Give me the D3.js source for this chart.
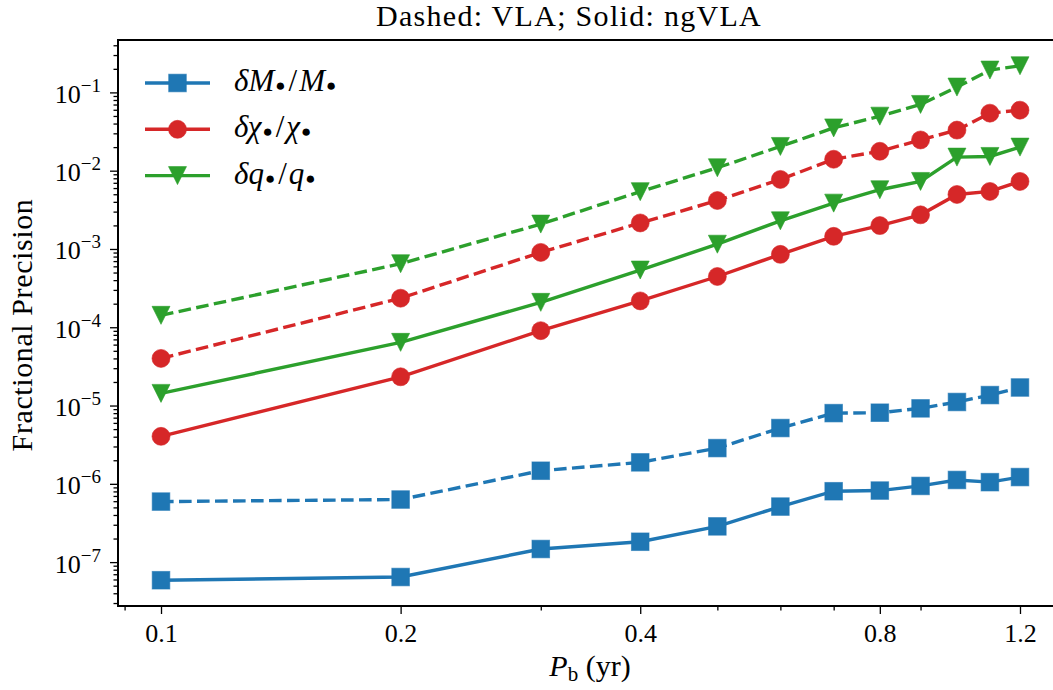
<!DOCTYPE html>
<html><head><meta charset="utf-8">
<script src="https://cdn.jsdelivr.net/npm/d3@7"></script>
<style>
body{margin:0;background:#fff}
svg{display:block}
text{font-family:"Liberation Serif","Times New Roman",serif;fill:#000}
</style>
</head><body>
<svg id="chart" width="1053" height="690"></svg>
<script>
// ---- data ----
const periods = [0.1, 0.2, 0.3, 0.4, 0.5, 0.6, 0.7, 0.8, 0.9, 1.0, 1.1, 1.2];
const ngvlaMass = [5.87e-8, 6.45e-8, 1.47e-7, 1.82e-7, 2.86e-7, 5.12e-7, 8.04e-7, 8.2e-7, 9.4e-7, 1.12e-6, 1.05e-6, 1.22e-6];
const vlaMass   = [5.93e-7, 6.3e-7, 1.47e-6, 1.88e-6, 2.86e-6, 5.16e-6, 8.0e-6, 8.1e-6, 9.2e-6, 1.11e-5, 1.36e-5, 1.70e-5];
const ngvlaSpin = [4.04e-6, 2.33e-5, 9.04e-5, 2.17e-4, 4.45e-4, 8.53e-4, 1.45e-3, 1.99e-3, 2.73e-3, 4.97e-3, 5.43e-3, 7.29e-3];
const vlaSpin   = [4.0e-5, 2.35e-4, 9.04e-4, 2.15e-3, 4.16e-3, 7.73e-3, 1.40e-2, 1.77e-2, 2.47e-2, 3.3e-2, 5.43e-2, 5.93e-2];
const ngvlaQuad = [1.43e-5, 6.41e-5, 2.08e-4, 5.38e-4, 1.15e-3, 2.29e-3, 3.85e-3, 5.71e-3, 7.29e-3, 1.49e-2, 1.52e-2, 2.0e-2];
const vlaQuad   = [1.42e-4, 6.48e-4, 2.08e-3, 5.4e-3, 1.09e-2, 2.04e-2, 3.52e-2, 4.97e-2, 7.02e-2, 0.117, 0.193, 0.219];
const xMajorTicks = [0.1, 0.2, 0.4, 0.8, 1.2];
const xMinorTicks = [0.09, 0.3, 0.5, 0.6, 0.7, 0.9];
const yExponents = [-7, -6, -5, -4, -3, -2, -1];
const titleText = "Dashed: VLA; Solid: ngVLA";
const xLabelMain = "P";
const xLabelSub = "b";
const xLabelUnit = " (yr)";
const yLabelText = "Fractional Precision";

const colors = {mass: "#1f77b4", spin: "#d62728", quad: "#2ca02c"};

const series = [
  {key: "mass", vals: vlaMass, dashed: true, marker: "square"},
  {key: "mass", vals: ngvlaMass, dashed: false, marker: "square"},
  {key: "spin", vals: vlaSpin, dashed: true, marker: "circle"},
  {key: "spin", vals: ngvlaSpin, dashed: false, marker: "circle"},
  {key: "quad", vals: vlaQuad, dashed: true, marker: "tri"},
  {key: "quad", vals: ngvlaQuad, dashed: false, marker: "tri"}
];

const legendItems = [
  {key: "mass", marker: "square", sym: "M"},
  {key: "spin", marker: "circle", sym: "χ"},
  {key: "quad", marker: "tri", sym: "q"}
];

// ---- layout ----
const L = 118, R = 1063, T = 40, B = 606;
const svg = d3.select("#chart");

const x = d3.scaleLog().domain([0.0883, 1.359]).range([L, R]);
const y = d3.scaleLog().domain([2.75e-8, 0.467]).range([B, T]);

// minor y ticks
const yMinor = [];
for (let e = -8; e <= 0; e++) for (let m = 2; m <= 9; m++) {
  const v = m * Math.pow(10, e);
  if (v >= y.domain()[0] && v <= y.domain()[1]) yMinor.push(v);
}
const yMajor = yExponents.map(e => Math.pow(10, e));

const clipId = "clip";
svg.append("defs").append("clipPath").attr("id", clipId)
  .append("rect").attr("x", L - 12).attr("y", T - 12).attr("width", R - L + 24).attr("height", B - T + 24);

// axes ticks
const gyMinor = svg.append("g").attr("transform", `translate(${L},0)`)
  .call(d3.axisLeft(y).tickValues(yMinor).tickSize(4.5).tickSizeOuter(0).tickFormat(() => ""));
const gyMajor = svg.append("g").attr("transform", `translate(${L},0)`)
  .call(d3.axisLeft(y).tickValues(yMajor).tickSize(8).tickSizeOuter(0).tickFormat(() => ""));
const gxMinor = svg.append("g").attr("transform", `translate(0,${B})`)
  .call(d3.axisBottom(x).tickValues(xMinorTicks).tickSize(4.5).tickSizeOuter(0).tickFormat(() => ""));
const gxMajor = svg.append("g").attr("transform", `translate(0,${B})`)
  .call(d3.axisBottom(x).tickValues(xMajorTicks).tickSize(8).tickSizeOuter(0).tickFormat(d3.format(".1f")));

[gyMinor, gyMajor, gxMinor, gxMajor].forEach(g => {
  g.select(".domain").remove();
  g.selectAll(".tick line").attr("stroke", "#000").attr("stroke-width", 1.3);
});
gxMajor.selectAll(".tick text")
  .attr("font-family", "Liberation Serif, serif").attr("font-size", 26)
  .attr("y", 0).attr("dy", 0).attr("transform", "translate(0,36)").attr("fill", "#000");

// y tick labels: 10^e
gyMajor.selectAll(".tick").each(function(d) {
  const t = d3.select(this).select("text");
  t.attr("x", -17).attr("dy", 0).attr("y", 10).attr("font-size", 26)
   .attr("font-family", "Liberation Serif, serif").attr("text-anchor", "end").attr("fill", "#000");
  t.text("10");
  t.append("tspan").attr("dy", -11).attr("font-size", 19).text("\u2212" + Math.abs(Math.round(Math.log10(d))));
});

// spines
svg.append("line").attr("x1", L).attr("x2", L).attr("y1", T - 1).attr("y2", B + 1).attr("stroke", "#000").attr("stroke-width", 2);
svg.append("line").attr("x1", L - 1).attr("x2", R).attr("y1", B).attr("y2", B).attr("stroke", "#000").attr("stroke-width", 2);
svg.append("line").attr("x1", L - 1).attr("x2", R).attr("y1", T).attr("y2", T).attr("stroke", "#000").attr("stroke-width", 2);
svg.append("line").attr("x1", R).attr("x2", R).attr("y1", T).attr("y2", B).attr("stroke", "#000").attr("stroke-width", 2);

// markers
function drawMarker(g, type, cx, cy, color) {
  if (type === "square") {
    g.append("rect").attr("x", cx - 8.8).attr("y", cy - 8.8).attr("width", 17.6).attr("height", 17.6)
      .attr("fill", color).attr("stroke", color).attr("stroke-opacity", 0.6).attr("stroke-width", 1);
  } else if (type === "circle") {
    g.append("circle").attr("cx", cx).attr("cy", cy).attr("r", 9)
      .attr("fill", color).attr("stroke", color).attr("stroke-opacity", 0.6).attr("stroke-width", 1);
  } else {
    const h = 9;
    g.append("path").attr("d", `M${cx - h},${cy - h}L${cx + h},${cy - h}L${cx},${cy + h}Z`)
      .attr("fill", color).attr("stroke", color).attr("stroke-opacity", 0.6).attr("stroke-width", 1);
  }
}

const plot = svg.append("g").attr("clip-path", `url(#${clipId})`);
const line = d3.line().x((d, i) => x(periods[i])).y(d => y(d));

series.forEach(s => {
  const g = plot.append("g");
  g.append("path").datum(s.vals).attr("d", line)
    .attr("fill", "none").attr("stroke", colors[s.key]).attr("stroke-width", 3.4)
    .attr("stroke-dasharray", s.dashed ? "12.6,5.4" : null);
  s.vals.forEach((v, i) => drawMarker(g, s.marker, x(periods[i]), y(v), colors[s.key]));
});

// legend
const legY0 = 83, legDY = 46.3;
legendItems.forEach((it, i) => {
  const ly = legY0 + i * legDY;
  const g = svg.append("g");
  g.append("line").attr("x1", 145).attr("x2", 210).attr("y1", ly).attr("y2", ly)
    .attr("stroke", colors[it.key]).attr("stroke-width", 3.4);
  drawMarker(g, it.marker, 177.5, ly, colors[it.key]);
  const t = g.append("text").attr("x", 234).attr("y", ly + 8).attr("font-size", 31);
  t.append("tspan").attr("font-style", "italic").text("\u03b4" + it.sym);
  t.append("tspan").attr("font-size", 17).attr("dx", 1).text("\u25cf");
  t.append("tspan").attr("dx", 3).text("/");
  t.append("tspan").attr("font-style", "italic").attr("dx", 2).text(it.sym);
  t.append("tspan").attr("font-size", 17).attr("dx", 1).text("\u25cf");
});

// title
svg.append("text").attr("x", 569).attr("y", 26).attr("text-anchor", "middle")
  .attr("font-size", 30).attr("letter-spacing", 1.3).text(titleText);

// x label
const xl = svg.append("text").attr("x", 590).attr("y", 676).attr("text-anchor", "middle").attr("font-size", 30);
xl.append("tspan").attr("font-style", "italic").text(xLabelMain);
xl.append("tspan").attr("font-size", 21).attr("dy", 5).text(xLabelSub);
xl.append("tspan").attr("dy", -5).text(xLabelUnit);

// y label
svg.append("text").attr("transform", "translate(32,325) rotate(-90)").attr("text-anchor", "middle")
  .attr("font-size", 30).attr("letter-spacing", 0.6).text(yLabelText);
</script>
</body></html>
